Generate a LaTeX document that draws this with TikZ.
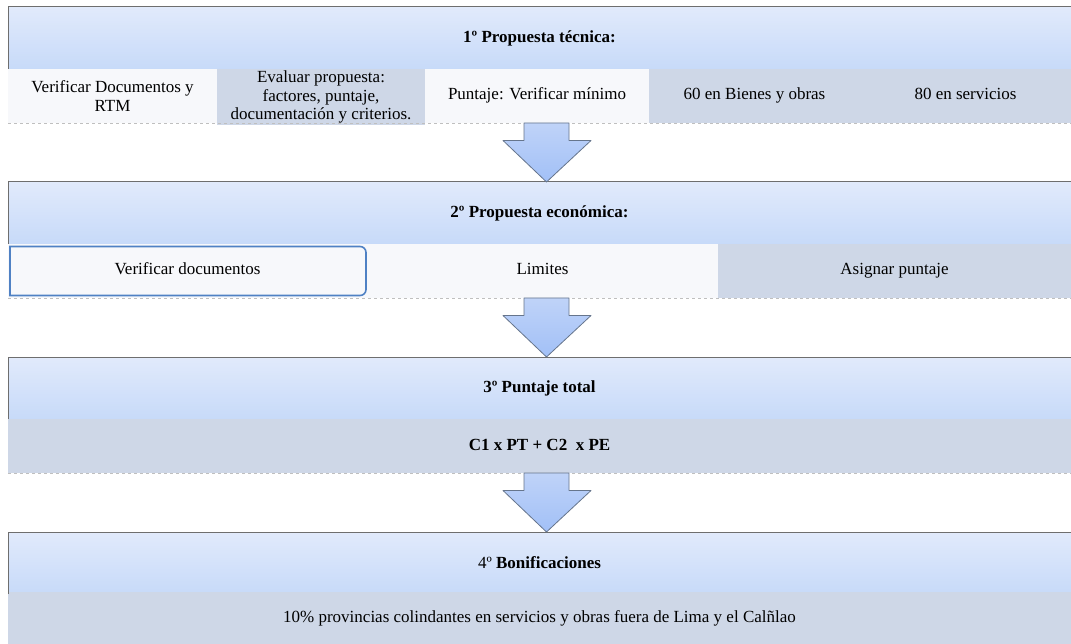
\documentclass[tikz,border=0pt]{standalone}
\usepackage{fontspec}
\setmainfont{Liberation Serif}
\usepackage{tikz}
\usetikzlibrary{calc}

\definecolor{cabArriba}{HTML}{E1EAFB}
\definecolor{cabAbajo}{HTML}{C7DAF9}
\definecolor{filaGris}{HTML}{CED7E7}
\definecolor{filaBlanca}{HTML}{F7F8FB}
\definecolor{bordeCaja}{HTML}{6E6E6E}
\definecolor{bordeAzul}{HTML}{4F81C4}
\definecolor{flechaArriba}{HTML}{BFD3F8}
\definecolor{flechaAbajo}{HTML}{A2C0F7}
\definecolor{bordeFlecha}{HTML}{66758C}

\newcommand{\letra}{\fontsize{17}{18.5}\selectfont}

\begin{document}
\begin{tikzpicture}[x=1pt,y=-1pt,every text node part/.style={align=center}]
  \tikzstyle{cabecera}=[anchor=north west,minimum width=1063pt,minimum height=62pt,
    inner sep=0pt,outer sep=0pt,top color=cabArriba,bottom color=cabAbajo,
    font=\letra\bfseries]
  \tikzstyle{fila}=[anchor=north west,minimum height=54pt,inner sep=2pt,
    outer sep=0pt,fill=filaGris,font=\letra]
  \tikzstyle{blanca}=[fila,fill=filaBlanca]
  \tikzstyle{renglon}=[text height=12pt,text depth=4pt]
  \tikzstyle{borde}=[draw=bordeCaja,line width=1pt]
  \tikzstyle{pie}=[draw=black!25,dashed,line width=0.6pt]
  \tikzstyle{flecha}=[draw=bordeFlecha,line width=0.8pt,line join=round,
    top color=flechaArriba,bottom color=flechaAbajo]

  \useasboundingbox (0,0) rectangle (1071,644);

  \node [cabecera] (p1) at (8,7) {1º Propuesta técnica:};
  \node [blanca, minimum width=209pt] (p1a) at (8,69) {Verificar Documentos y\\RTM};
  \node [fila, minimum width=208pt] (p1b) at (217,69) {Evaluar propuesta:\\factores, puntaje,\\documentación y criterios.};
  \node [blanca, renglon, minimum width=224pt] (p1c) at (425,69) {Puntaje: Verificar mínimo};
  \node [fila, renglon, minimum width=211pt] (p1d) at (649,69) {60 en Bienes y obras};
  \node [fila, renglon, minimum width=211pt] (p1e) at (860,69) {80 en servicios};

  \node [cabecera] (p2) at (8,182) {2º Propuesta económica:};
  \node [blanca, renglon, minimum width=359pt] (p2a) at (8,244) {Verificar documentos};
  \node [blanca, renglon, minimum width=351pt] (p2b) at (367,244) {Limites};
  \node [fila, renglon, minimum width=353pt] (p2c) at (718,244) {Asignar puntaje};
  \draw [bordeAzul,line width=1.6pt] ([shift={(2,-2.5)}]p2a.south west)
    -- ([shift={(2,2.5)}]p2a.north west) [rounded corners=6pt]
    -- ([shift={(-1,2.5)}]p2a.north east) -- ([shift={(-1,-2.5)}]p2a.south east)
    [sharp corners] -- cycle;

  \node [cabecera] (p3) at (8,357) {3º Puntaje total};
  \node [fila, renglon, minimum width=1063pt, font=\letra\bfseries] (p3a) at (8,419) {C1 x PT + C2\ \ x PE};

  \node [cabecera] (p4) at (8,532) {\mdseries 4º \bfseries Bonificaciones};
  \node [fila, renglon, minimum width=1063pt, minimum height=52pt] (p4a) at (8,592) {10\% provincias colindantes en servicios y obras fuera de Lima y el Calñlao};

  \foreach \p in {p1,p2,p3,p4}
    \draw [borde] (\p.south west) -- (\p.north west) -- (\p.north east);
  \foreach \f in {p1a,p2a,p3a}
    \draw [pie] (\f.south west) -- ($(\f.south west)+(1063,0)$);

  \foreach \arriba/\abajo in {p1c/p2,p2b/p3,p3a/p4}
    \draw [flecha] let \p1=(\arriba.south), \p2=(\abajo.north) in
      (524,\y1) -- (569,\y1) -- (569,\y1-17.5pt) -- (591,\y1-17.5pt)
      -- (546.5,\y2) -- (503,\y1-17.5pt) -- (524,\y1-17.5pt) -- cycle;
\end{tikzpicture}
\end{document}
